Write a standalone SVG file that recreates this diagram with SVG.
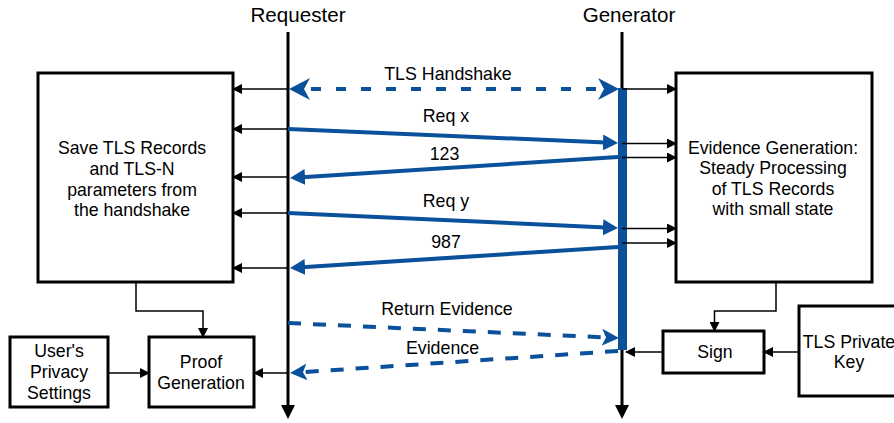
<svg xmlns="http://www.w3.org/2000/svg" width="894" height="423" viewBox="0 0 894 423">
  <style>
    text { font-family: "Liberation Sans", Arial, Helvetica, sans-serif; fill: #000; text-anchor: middle; }
    .hdr { font-size: 20.6px; }
    .box { font-size: 17.7px; }
    .msg { font-size: 17.8px; }
    .frame { fill: #fff; stroke: #000; stroke-width: 3; }
    .life { fill: none; stroke: #000; stroke-width: 3; }
    .thin { fill: none; stroke: #000; stroke-width: 1.5; marker-end: url(#tip); }
    .call { fill: none; stroke: #0a509a; stroke-width: 4; marker-end: url(#blueTip); }
    .dash { fill: none; stroke: #0a509a; stroke-width: 4; stroke-dasharray: 13 12; marker-end: url(#blueNotch); }
  </style>
  <defs>
    <marker id="tip" markerUnits="userSpaceOnUse" markerWidth="10" markerHeight="10" refX="9" refY="5" orient="auto">
      <path d="M0,0 L10,5 L0,10 z" fill="#000"/>
    </marker>
    <marker id="lifeTip" markerUnits="userSpaceOnUse" markerWidth="14" markerHeight="14" refX="1" refY="7" orient="auto">
      <path d="M0,0 L14,7 L0,14 z" fill="#000"/>
    </marker>
    <marker id="blueTip" markerUnits="userSpaceOnUse" markerWidth="15" markerHeight="16" refX="3" refY="8" orient="auto">
      <path d="M0,0 L15,8 L0,16 z" fill="#0a509a"/>
    </marker>
    <marker id="blueNotch" markerUnits="userSpaceOnUse" markerWidth="17" markerHeight="17" refX="5" refY="8.5" orient="auto">
      <path d="M0,0 L17,8.5 L0,17 L4,8.5 z" fill="#0a509a"/>
    </marker>
    <marker id="handshake" markerUnits="userSpaceOnUse" markerWidth="21" markerHeight="22" refX="7" refY="11" orient="auto-start-reverse">
      <path d="M0,0 L21,11 L0,22 L6,11 z" fill="#0a509a"/>
    </marker>
  </defs>

  <!-- lifelines -->
  <g id="requester">
    <text class="hdr" x="298" y="22">Requester</text>
    <path class="life" d="M288,32 V406" marker-end="url(#lifeTip)"/>
  </g>
  <g id="generator">
    <text class="hdr" x="629" y="22">Generator</text>
    <path class="life" d="M622,32 V406" marker-end="url(#lifeTip)"/>
    <rect x="618" y="88" width="9" height="262" fill="#0a509a"/>
  </g>

  <!-- boxes -->
  <g id="save-records">
    <rect class="frame" x="38" y="73" width="195" height="209"/>
    <text class="box" x="132" y="154">Save TLS Records</text>
    <text class="box" x="132" y="175">and TLS-N</text>
    <text class="box" x="132" y="195.5">parameters from</text>
    <text class="box" x="132" y="216">the handshake</text>
  </g>
  <g id="evidence-generation">
    <rect class="frame" x="676" y="73" width="196" height="209"/>
    <text class="box" x="773" y="153.5">Evidence Generation:</text>
    <text class="box" x="773" y="174">Steady Processing</text>
    <text class="box" x="773" y="194.5">of TLS Records</text>
    <text class="box" x="773" y="215">with small state</text>
  </g>
  <g id="privacy-settings">
    <rect class="frame" x="10" y="337" width="98" height="70"/>
    <text class="box" x="59" y="357">User's</text>
    <text class="box" x="59" y="378">Privacy</text>
    <text class="box" x="59" y="399">Settings</text>
  </g>
  <g id="proof-generation">
    <rect class="frame" x="149" y="337" width="105" height="70"/>
    <text class="box" x="201" y="368">Proof</text>
    <text class="box" x="201" y="389">Generation</text>
  </g>
  <g id="sign">
    <rect class="frame" x="663" y="331" width="101" height="42"/>
    <text class="box" x="715" y="357.5">Sign</text>
  </g>
  <g id="private-key">
    <rect class="frame" x="799" y="306" width="100" height="90"/>
    <text class="box" x="849" y="347.5">TLS Private</text>
    <text class="box" x="849" y="368">Key</text>
  </g>

  <!-- connectors -->
  <g id="connectors">
    <!-- requester copies every record into the left box -->
    <path class="thin" d="M288,89 H233"/>
    <path class="thin" d="M288,129 H233"/>
    <path class="thin" d="M288,177 H233"/>
    <path class="thin" d="M288,213 H233"/>
    <path class="thin" d="M288,268 H233"/>
    <!-- generator feeds records into evidence generation -->
    <path class="thin" d="M622,89 H676"/>
    <path class="thin" d="M622,143.5 H676"/>
    <path class="thin" d="M622,157.5 H676"/>
    <path class="thin" d="M622,228.5 H676"/>
    <path class="thin" d="M622,243 H676"/>
    <!-- lower flows -->
    <path class="thin" d="M136,282 V311 H203 V337"/>
    <path class="thin" d="M776,282 V311 H714.5 V331"/>
    <path class="thin" d="M108,373 H149"/>
    <path class="thin" d="M288,373 H254"/>
    <path class="thin" d="M799,352 H764"/>
    <path class="thin" d="M663,352 H626"/>

    <!-- protocol messages -->
    <path d="M303,89 H605" fill="none" stroke="#0a509a" stroke-width="4" stroke-dasharray="10 15" stroke-dashoffset="-8" marker-start="url(#handshake)" marker-end="url(#handshake)"/>
    <text class="msg" x="448" y="80">TLS Handshake</text>

    <path class="call" d="M288,129 L606,142.5"/>
    <text class="msg" x="446" y="122">Req x</text>

    <path class="call" d="M618,157 L302,177.2"/>
    <text class="msg" x="444.5" y="160">123</text>

    <path class="call" d="M288,213 L606,227.5"/>
    <text class="msg" x="446" y="206.5">Req y</text>

    <path class="call" d="M618,247 L302,267.2"/>
    <text class="msg" x="446" y="247.5">987</text>

    <path class="dash" d="M288,323 L607,337.5"/>
    <text class="msg" x="447" y="315">Return Evidence</text>

    <path class="dash" d="M618,351 L302,372.2"/>
    <text class="msg" x="442.5" y="354">Evidence</text>
  </g>
</svg>
